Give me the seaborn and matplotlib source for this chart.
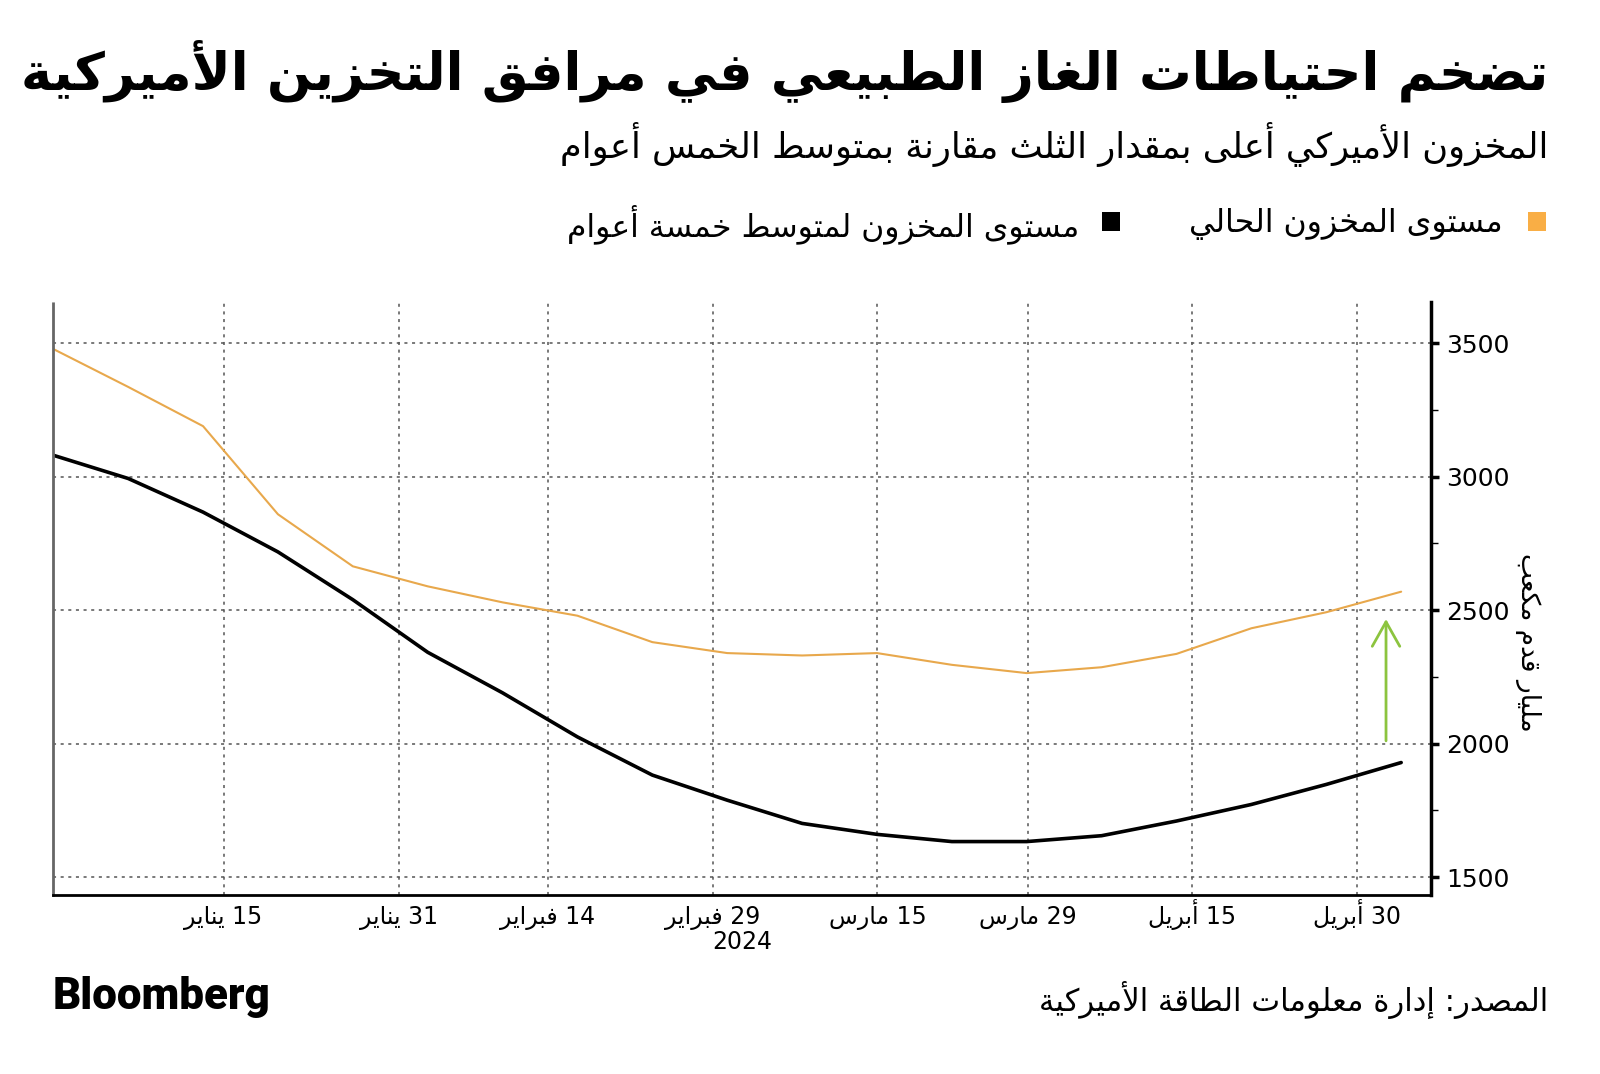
import re
import matplotlib
matplotlib.use("Agg")
import matplotlib.pyplot as plt
from matplotlib.patches import Rectangle
import pandas as pd
import seaborn as sns

# weekly storage, billion cubic feet
week_dates = ["2023-12-30", "2024-01-06", "2024-01-13", "2024-01-20", "2024-01-27",
              "2024-02-03", "2024-02-10", "2024-02-17", "2024-02-24", "2024-03-02",
              "2024-03-09", "2024-03-16", "2024-03-23", "2024-03-30", "2024-04-06",
              "2024-04-13", "2024-04-20", "2024-04-27", "2024-05-04"]
current_bcf = [3478, 3336, 3189, 2859, 2664, 2589, 2529, 2479, 2380, 2339,
               2330, 2339, 2295, 2264, 2286, 2336, 2432, 2492, 2569]
avg5_bcf = [3080, 2993, 2867, 2718, 2539, 2342, 2190, 2025, 1882, 1788,
            1701, 1660, 1633, 1633, 1655, 1710, 1772, 1847, 1929]

# bloomberg puts its date ticks slightly off the exact days
tick_dates = ["2024-01-14 22:00", "2024-01-31 07:00", "2024-02-14 06:00", "2024-02-29 16:00",
              "2024-03-16 01:00", "2024-03-30 03:00", "2024-04-14 11:00", "2024-04-29 22:00"]
tick_labels = ["15 يناير", "31 يناير", "14 فبراير", "29 فبراير",
               "15 مارس", "29 مارس", "15 أبريل", "30 أبريل"]
y_ticks = [1500, 2000, 2500, 3000, 3500]
y_minor = [1750, 2250, 2750, 3250]
arrow_date = "2024-05-02 14:00"
arrow_from, arrow_to = 2000, 2477

title = "تضخم احتياطات الغاز الطبيعي في مرافق التخزين الأميركية"
subtitle = "المخزون الأميركي أعلى بمقدار الثلث مقارنة بمتوسط الخمس أعوام"
legend_current = "مستوى المخزون الحالي"
legend_avg = "مستوى المخزون لمتوسط خمسة أعوام"
y_label = "مليار قدم مكعب"
source = "المصدر: إدارة معلومات الطاقة الأميركية"

ORANGE_LINE = "#e8a84c"
ORANGE_BOX = "#f9ae45"
GREEN = "#8cc43f"
GRID = "#555555"

# matplotlib has no arabic shaping, so map letters to presentation forms and reverse
_FORMS = {
    "ء": (0xFE80, 1), "آ": (0xFE81, 2), "أ": (0xFE83, 2), "ؤ": (0xFE85, 2), "إ": (0xFE87, 2),
    "ئ": (0xFE89, 4), "ا": (0xFE8D, 2), "ب": (0xFE8F, 4), "ة": (0xFE93, 2), "ت": (0xFE95, 4),
    "ث": (0xFE99, 4), "ج": (0xFE9D, 4), "ح": (0xFEA1, 4), "خ": (0xFEA5, 4), "د": (0xFEA9, 2),
    "ذ": (0xFEAB, 2), "ر": (0xFEAD, 2), "ز": (0xFEAF, 2), "س": (0xFEB1, 4), "ش": (0xFEB5, 4),
    "ص": (0xFEB9, 4), "ض": (0xFEBD, 4), "ط": (0xFEC1, 4), "ظ": (0xFEC5, 4), "ع": (0xFEC9, 4),
    "غ": (0xFECD, 4), "ف": (0xFED1, 4), "ق": (0xFED5, 4), "ك": (0xFED9, 4), "ل": (0xFEDD, 4),
    "م": (0xFEE1, 4), "ن": (0xFEE5, 4), "ه": (0xFEE9, 4), "و": (0xFEED, 2), "ى": (0xFEEF, 2),
    "ي": (0xFEF1, 4),
}
_LAM_ALEF = {"آ": 0xFEF5, "أ": 0xFEF7, "إ": 0xFEF9, "ا": 0xFEFB}


def ar(text):
    items = []
    i = 0
    while i < len(text):
        c = text[i]
        if c == "ل" and i + 1 < len(text) and text[i + 1] in _LAM_ALEF:
            items.append((_LAM_ALEF[text[i + 1]], 2))
            i += 2
        elif c in _FORMS:
            items.append(_FORMS[c])
            i += 1
        else:
            items.append(c)
            i += 1
    out = []
    for k, it in enumerate(items):
        if isinstance(it, str):
            out.append(it)
            continue
        base, n = it
        prev = items[k - 1] if k > 0 else None
        nxt = items[k + 1] if k + 1 < len(items) else None
        jp = n >= 2 and isinstance(prev, tuple) and prev[1] == 4
        jn = n == 4 and isinstance(nxt, tuple) and nxt[1] >= 2
        if n == 1:
            off = 0
        elif n == 2:
            off = 1 if jp else 0
        else:
            off = {(False, False): 0, (True, False): 1, (False, True): 2, (True, True): 3}[(jp, jn)]
        out.append(chr(base + off))
    vis = "".join(out)[::-1]
    return re.sub(r"[0-9A-Za-z.,]+", lambda m: m.group()[::-1], vis)


sns.set_style("white")
plt.rcParams["font.family"] = ["DejaVu Sans"]
plt.rcParams["text.color"] = "black"
plt.rcParams["xtick.color"] = "black"
plt.rcParams["ytick.color"] = "black"

df = pd.DataFrame({"date": pd.to_datetime(week_dates), "current": current_bcf, "avg5": avg5_bcf})

fig = plt.figure(figsize = (16, 10.74), dpi = 100)
ax = fig.add_axes([0.0333, 0.1667, 0.8611, 0.5521])

sns.lineplot(data = df, x = "date", y = "avg5", color = "black", linewidth = 2.6, ax = ax)
sns.lineplot(data = df, x = "date", y = "current", color = ORANGE_LINE, linewidth = 1.5, ax = ax)

ax.annotate("", xy = (pd.Timestamp(arrow_date), arrow_to), xytext = (pd.Timestamp(arrow_date), arrow_from),
            arrowprops = dict(arrowstyle = "->,head_length=0.8,head_width=0.45", color = GREEN, lw = 2, mutation_scale = 22))

ax.set_xlim(pd.Timestamp("2023-12-30"), pd.Timestamp("2024-05-06 19:00"))
ax.set_ylim(1433, 3654)

# axes, ticks, grid
tick_ts = pd.to_datetime(tick_dates)
ax.set_xticks(tick_ts)
ax.set_xticklabels([ar(t) for t in tick_labels], fontsize = 17, va = "baseline")
minor_ts = [tick_ts[0] - (tick_ts[1] - tick_ts[0]) / 2] + [a + (b - a) / 2 for a, b in zip(tick_ts[:-1], tick_ts[1:])]
ax.set_xticks(minor_ts, minor = True)
ax.yaxis.tick_right()
ax.set_yticks(y_ticks)
ax.set_yticklabels([str(v) for v in y_ticks], fontsize = 18)
ax.set_yticks(y_minor, minor = True)
ax.tick_params(axis = "x", which = "both", direction = "out", length = 6, width = 1, pad = 15)
ax.tick_params(axis = "y", which = "major", direction = "out", length = 6, width = 2.5, pad = 5)
ax.tick_params(axis = "y", which = "minor", direction = "out", length = 5, width = 1)
ax.grid(True, which = "major", color = GRID, linestyle = (0, (2, 3)), linewidth = 1.1)
ax.set_xlabel("")
ax.set_ylabel("")

ax.spines["top"].set_visible(False)
ax.spines["right"].set_linewidth(2.5)
ax.spines["right"].set_color("black")
ax.spines["bottom"].set_linewidth(2)
ax.spines["bottom"].set_color("black")
ax.spines["left"].set_color("#666666")
ax.spines["left"].set_linestyle((0, (1, 1)))
ax.spines["left"].set_linewidth(2)

fig.text(0.464, 0.123, "2024", fontsize = 17, ha = "center", va = "center")

# header texts
renderer = fig.canvas.get_renderer()


def fit(t, width_px):
    w = t.get_window_extent(renderer = renderer).width
    t.set_fontsize(t.get_fontsize() * width_px / w)


t_title = fig.text(0.9675, 0.933, ar(title), fontsize = 40, fontweight = "bold", ha = "right", va = "center")
fit(t_title, 1526)
t_sub = fig.text(0.9675, 0.865, ar(subtitle), fontsize = 24, ha = "right", va = "center")
fit(t_sub, 994)

t_l1 = fig.text(1503 / 1600, 0.791, ar(legend_current), fontsize = 20, ha = "right", va = "center")
fit(t_l1, 314)
t_l2 = fig.text(1079 / 1600, 0.791, ar(legend_avg), fontsize = 20, ha = "right", va = "center")
fit(t_l2, 511)
fig.patches.append(Rectangle((1528 / 1600, 1 - 231 / 1074), 18 / 1600, 19 / 1074, transform = fig.transFigure,
                             facecolor = ORANGE_BOX, edgecolor = "none"))
fig.patches.append(Rectangle((1102 / 1600, 1 - 231 / 1074), 18 / 1600, 19 / 1074, transform = fig.transFigure,
                             facecolor = "black", edgecolor = "none"))

fig.text(1528 / 1600, 0.402, ar(y_label), fontsize = 19, rotation = 270, ha = "center", va = "center")

# footer
t_bb = fig.text(0.033, 0.072, "Bloomberg", fontsize = 30, fontweight = "black", family = ["Roboto", "DejaVu Sans"],
                ha = "left", va = "center")
fit(t_bb, 218)
t_src = fig.text(0.9675, 0.069, ar(source), fontsize = 20, ha = "right", va = "center")
fit(t_src, 510)

fig.savefig("out.png", dpi = 100, facecolor = "white")
plt.close()
